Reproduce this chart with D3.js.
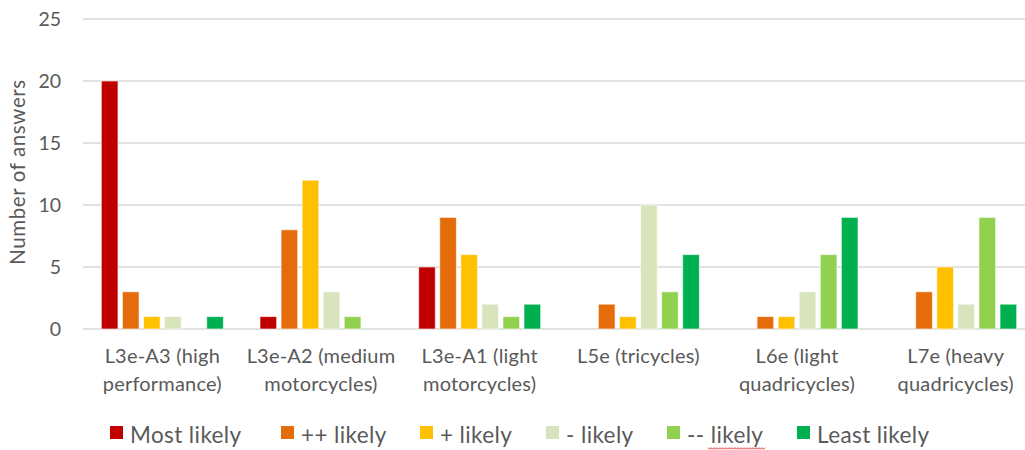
<!DOCTYPE html>
<html>
<head>
<meta charset="utf-8">
<script src="https://cdn.jsdelivr.net/npm/d3@7"></script>
<style>
  html, body { margin: 0; padding: 0; background: #fff; }
  svg { display: block; font-family: Lato, "Open Sans", sans-serif; }
</style>
</head>
<body>
<svg id="chart" width="1025" height="450"></svg>
<script>
// Vehicle categories (two-line labels)
const categories = [
  ["L3e-A3 (high", "performance)"],
  ["L3e-A2 (medium", "motorcycles)"],
  ["L3e-A1 (light", "motorcycles)"],
  ["L5e (tricycles)"],
  ["L6e (light", "quadricycles)"],
  ["L7e (heavy", "quadricycles)"]
];

// Likelihood ranks
const seriesNames = ["Most likely", "++ likely", "+ likely", "- likely", "-- likely", "Least likely"];
const seriesColors = ["#C00000", "#E46C0A", "#FFC000", "#D8E4BC", "#92D050", "#00B050"];

// Number of answers per rank, one value per category
const mostLikely  = [20, 1, 5, 0, 0, 0];
const plusPlus    = [3, 8, 9, 2, 1, 3];
const plus        = [1, 12, 6, 1, 1, 5];
const minus       = [1, 3, 2, 10, 3, 2];
const minusMinus  = [0, 1, 1, 3, 6, 9];
const leastLikely = [1, 0, 2, 6, 9, 2];
const seriesValues = [mostLikely, plusPlus, plus, minus, minusMinus, leastLikely];

const yTicks = [0, 5, 10, 15, 20, 25];

const svg = d3.select("#chart");
const textColor = "#595959";
const gridColor = "#D9D9D9";

const catKeys = categories.map(c => c.join(" "));
const x0 = d3.scaleBand().domain(catKeys).range([83, 1035]).padding(0);
const x1 = d3.scaleBand().domain(seriesNames)
  .range([0, x0.bandwidth()]).paddingInner(0.21).paddingOuter(0.87);
const y = d3.scaleLinear().domain([0, 25]).range([329, 19]);

// Gridlines
svg.append("g")
  .selectAll("line")
  .data(yTicks)
  .join("line")
  .attr("x1", 83).attr("x2", 1025)
  .attr("y1", d => y(d)).attr("y2", d => y(d))
  .attr("stroke", gridColor).attr("stroke-width", 1.3);

// Y axis labels
const yAxis = d3.axisLeft(y).tickValues(yTicks).tickSize(0).tickPadding(0);
const yg = svg.append("g").attr("transform", "translate(61,0)").call(yAxis);
yg.select(".domain").remove();
yg.selectAll("text")
  .attr("fill", textColor)
  .style("font-size", "19.5px")
  .style("font-family", "Lato, sans-serif")
  .attr("dy", "0.34em");

// Y axis title
svg.append("text")
  .attr("transform", "translate(25,172) rotate(-90)")
  .attr("text-anchor", "middle")
  .attr("fill", textColor)
  .style("font-size", "20.5px")
  .style("letter-spacing", "0.6px")
  .text("Number of answers");

// Bars
const groups = svg.append("g")
  .selectAll("g")
  .data(catKeys)
  .join("g")
  .attr("transform", d => `translate(${x0(d)},0)`);

groups.selectAll("rect")
  .data((d, i) => seriesNames.map((s, j) => ({ s, v: seriesValues[j][i], c: seriesColors[j] })))
  .join("rect")
  .filter(d => d.v > 0)
  .attr("x", d => x1(d.s))
  .attr("width", x1.bandwidth())
  .attr("y", d => y(d.v))
  .attr("height", d => y(0) - y(d.v))
  .attr("fill", d => d.c)
  .attr("stroke", "#ffffff")
  .attr("stroke-opacity", 0.6)
  .attr("stroke-width", 1);

// Category labels
const xl = svg.append("g")
  .selectAll("text")
  .data(categories)
  .join("text")
  .attr("x", (d, i) => x0(catKeys[i]) + x0.bandwidth() / 2)
  .attr("y", 363)
  .attr("text-anchor", "middle")
  .attr("fill", textColor)
  .style("font-size", "20px")
  .style("letter-spacing", "0.2px");
xl.selectAll("tspan")
  .data(d => d)
  .join("tspan")
  .attr("x", function () { return d3.select(this.parentNode).attr("x"); })
  .attr("dy", (d, i) => i === 0 ? 0 : 28)
  .text(d => d);

// Legend
const legendX = [110, 281, 420, 546, 667, 797];
const legend = svg.append("g")
  .selectAll("g")
  .data(seriesNames)
  .join("g")
  .attr("transform", (d, i) => `translate(${legendX[i]},426)`);
legend.append("rect")
  .attr("width", 13).attr("height", 13)
  .attr("fill", (d, i) => seriesColors[i]);
legend.append("text")
  .attr("x", 20).attr("y", 16.5)
  .attr("fill", textColor)
  .style("font-size", "22.5px")
  .style("letter-spacing", "0.4px")
  .text(d => d);

// Proofing underline beneath the word "likely" of "-- likely"
const wave = [];
for (let px = 0; px <= 58; px += 1.5) {
  wave.push([708 + px, 448 + ((Math.round(px / 1.5) % 2) ? 1.2 : -0.3)]);
}
svg.append("path")
  .attr("d", d3.line()(wave))
  .attr("fill", "none")
  .attr("stroke", "#E02020")
  .attr("stroke-width", 0.9);
</script>
</body>
</html>
